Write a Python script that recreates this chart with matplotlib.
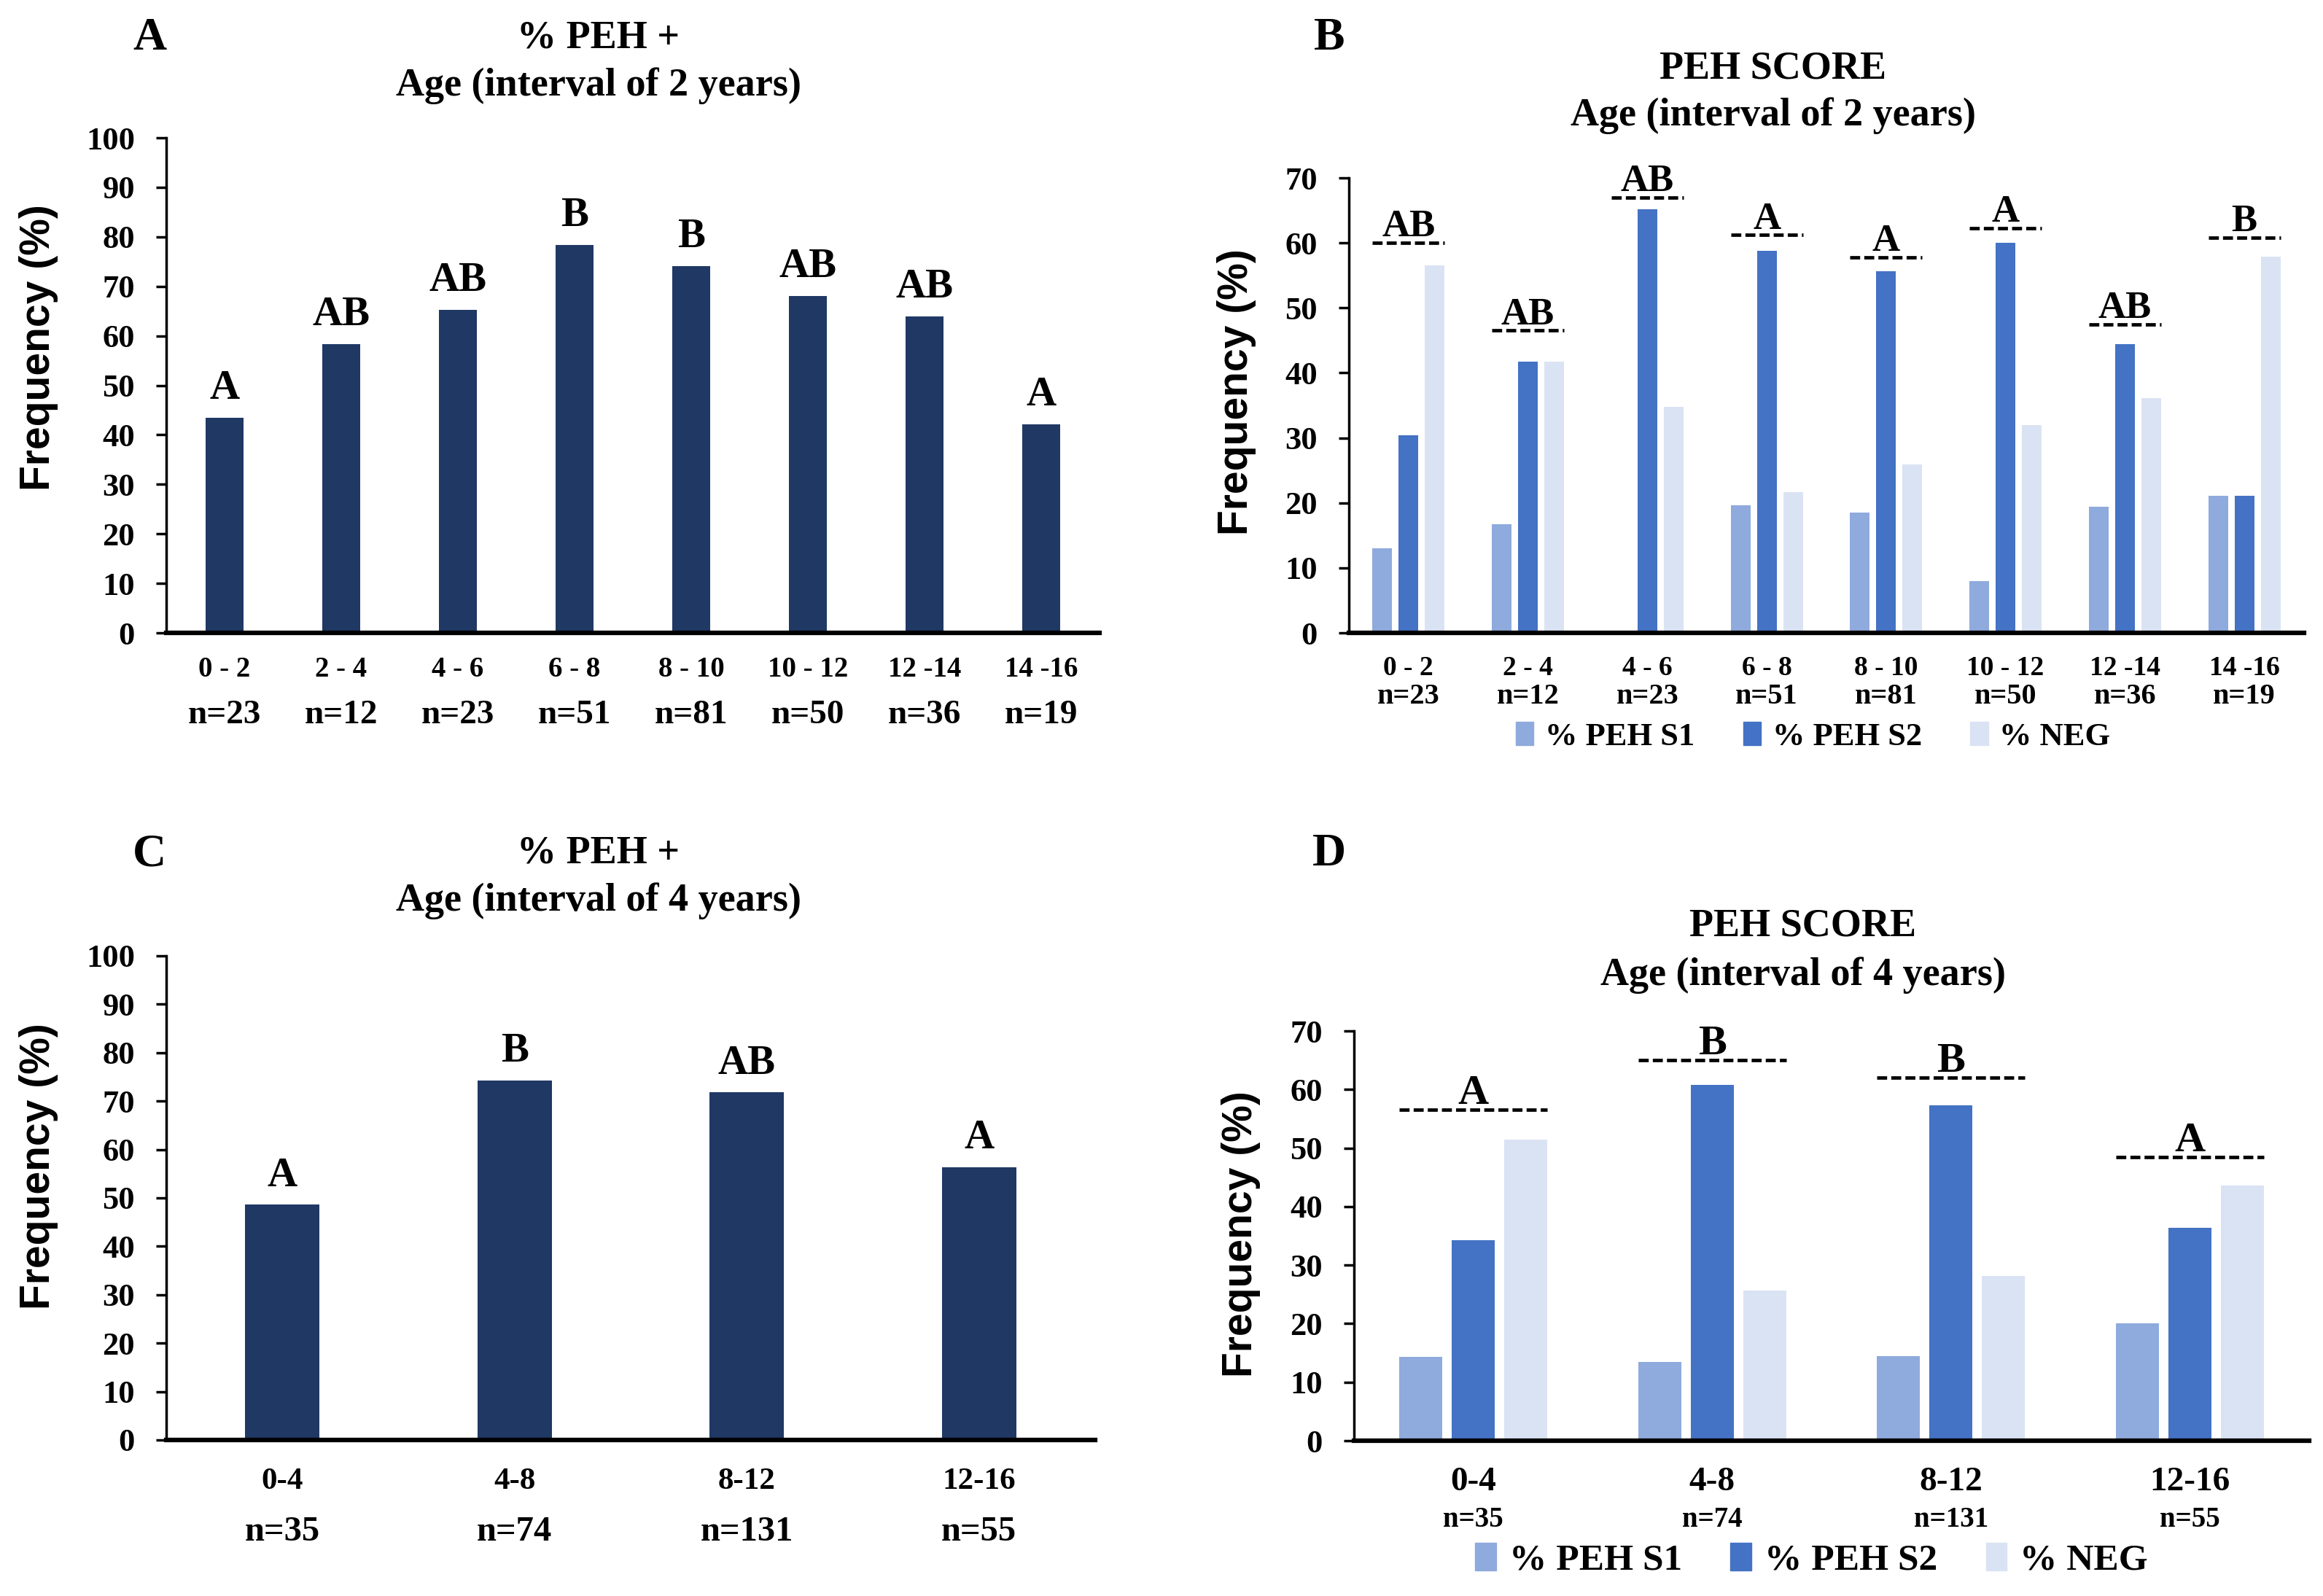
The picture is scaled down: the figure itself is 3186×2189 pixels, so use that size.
import matplotlib
matplotlib.use("Agg")
import matplotlib.pyplot as plt
from matplotlib.patches import Patch

# data
labels2 = ['0 - 2', '2 - 4', '4 - 6', '6 - 8', '8 - 10', '10 - 12', '12 -14', '14 -16']
n2 = [23, 12, 23, 51, 81, 50, 36, 19]
peh2 = [43.5, 58.3, 65.2, 78.4, 74.1, 68.0, 63.9, 42.1]
grp2 = ['A', 'AB', 'AB', 'B', 'B', 'AB', 'AB', 'A']
s1_2 = [13.0, 16.7, 0.0, 19.6, 18.5, 8.0, 19.4, 21.1]
s2_2 = [30.4, 41.7, 65.2, 58.8, 55.6, 60.0, 44.4, 21.1]
neg2 = [56.5, 41.7, 34.8, 21.6, 25.9, 32.0, 36.1, 57.9]
score_grp2 = ['AB', 'AB', 'AB', 'A', 'A', 'A', 'AB', 'B']
score_line2 = [60.0, 46.5, 67.0, 61.2, 57.8, 62.3, 47.5, 60.8]

labels4 = ['0-4', '4-8', '8-12', '12-16']
n4 = [35, 74, 131, 55]
peh4 = [48.6, 74.3, 71.8, 56.4]
grp4 = ['A', 'B', 'AB', 'A']
s1_4 = [14.3, 13.5, 14.5, 20.0]
s2_4 = [34.3, 60.8, 57.3, 36.4]
neg4 = [51.4, 25.7, 28.2, 43.6]
score_grp4 = ['A', 'B', 'B', 'A']
score_line4 = [56.5, 65.0, 62.0, 48.5]

NAVY = '#203864'
C_S1 = '#8FAADC'
C_S2 = '#4472C4'
C_NEG = '#DAE3F3'
SERIF = 'Liberation Serif'
SANS = 'Liberation Sans'

plt.rcParams['font.family'] = SERIF
plt.rcParams['font.weight'] = 'bold'

W, H = 3186, 2189
fig = plt.figure(figsize=(W / 100, H / 100), dpi=100)


def px_axes(left, right, top, bottom):
    # axes box from pixel edges of the picture
    return fig.add_axes([left / W, 1 - bottom / H, (right - left) / W, (bottom - top) / H])


def style_axes(ax, ymax, lab_x, lab_y):
    ax.set_ylim(0, ymax)
    ax.set_yticks(range(0, ymax + 1, 10))
    for s in ['top', 'right']:
        ax.spines[s].set_visible(False)
    ax.spines['bottom'].set_linewidth(4.5)
    ax.spines['left'].set_linewidth(2.5)
    ax.tick_params(axis='y', direction='out', length=10, width=2.5, labelsize=32, pad=21)
    ax.tick_params(axis='x', length=0, labelbottom=False)
    ax.set_ylabel('Frequency (%)', fontfamily=SANS, fontweight='bold', fontsize=41)
    ax.yaxis.set_label_coords(lab_x, lab_y)


def xlabels(ax, cats, ns, y_cat, y_n, size_cat, size_n):
    # y_cat / y_n: pixel distance below the x axis
    for i, (c, n) in enumerate(zip(cats, ns)):
        ax.annotate(c, xy=(i, 0), xycoords=('data', 'axes fraction'),
                    xytext=(0, -y_cat * 0.72), textcoords='offset points',
                    ha='center', va='center', fontsize=size_cat, fontweight='bold')
        ax.annotate(f'n={n}', xy=(i, 0), xycoords=('data', 'axes fraction'),
                    xytext=(0, -y_n * 0.72), textcoords='offset points',
                    ha='center', va='center', fontsize=size_n, fontweight='bold')


# ---- A ----
axA = px_axes(228, 1508, 189, 868)
axA.bar(range(len(labels2)), peh2, width=0.33, color=NAVY)
for i, (v, g) in enumerate(zip(peh2, grp2)):
    axA.text(i, v + 3.8, g, ha='center', va='baseline', fontsize=41, fontweight='bold')
axA.set_xlim(-0.5, 7.5)
style_axes(axA, 100, -0.116, 0.576)
xlabels(axA, labels2, n2, 50, 113, 28, 34)

# ---- C ----
axC = px_axes(228, 1502, 1311, 1975)
axC.bar(range(len(labels4)), peh4, width=0.32, color=NAVY)
for i, (v, g) in enumerate(zip(peh4, grp4)):
    axC.text(i, v + 3.8, g, ha='center', va='baseline', fontsize=41, fontweight='bold')
axC.set_xlim(-0.5, 3.5)
style_axes(axC, 100, -0.116, 0.565)
xlabels(axC, labels4, n4, 57, 126, 31, 35)


def score_panel(ax, s1, s2, neg, grps, lines, width, step, size, gap):
    xs = range(len(s1))
    ax.bar([i - step for i in xs], s1, width=width, color=C_S1)
    ax.bar(list(xs), s2, width=width, color=C_S2)
    ax.bar([i + step for i in xs], neg, width=width, color=C_NEG)
    half = step + width / 2
    for i, (g, y) in enumerate(zip(grps, lines)):
        ax.plot([i - half, i + half], [y, y], color='black', lw=3.4,
                linestyle=(0, (2.9, 1.2)), dash_capstyle='butt')
        ax.text(i, y + gap, g, ha='center', va='baseline', fontsize=size, fontweight='bold')


def legend(ax, xc, y, size, colsp):
    ax.legend(handles=[Patch(color=C_S1, label='% PEH S1'), Patch(color=C_S2, label='% PEH S2'),
                       Patch(color=C_NEG, label='% NEG')],
              loc='center', bbox_to_anchor=(xc, y), ncol=3, frameon=False,
              handlelength=0.55, handleheight=0.75, handletextpad=0.35, columnspacing=colsp,
              borderaxespad=0, prop={'family': SERIF, 'weight': 'bold', 'size': size})


# ---- B ----
axB = px_axes(1850, 3160, 244, 868)
score_panel(axB, s1_2, s2_2, neg2, score_grp2, score_line2, 0.165, 0.22, 38, 1.0)
axB.set_xlim(-0.5, 7.5)
style_axes(axB, 70, -0.097, 0.529)
xlabels(axB, labels2, n2, 48, 87, 27, 29)
legend(axB, 0.486, -0.228, 32, 1.5)

# ---- D ----
axD = px_axes(1857, 3167, 1414, 1976)
score_panel(axD, s1_4, s2_4, neg4, score_grp4, score_line4, 0.18, 0.22, 42, 1.0)
axD.set_xlim(-0.5, 3.5)
style_axes(axD, 70, -0.098, 0.505)
xlabels(axD, labels4, n4, 57, 108, 34, 28)
legend(axD, 0.479, -0.292, 37, 1.3)

# panel letters (x centre, baseline in pixels)
for lab, px, py in [('A', 205, 68), ('B', 1823, 68), ('C', 205, 1187), ('D', 1823, 1187)]:
    fig.text(px / W, 1 - py / H, lab, ha='center', va='baseline', fontsize=46, fontweight='bold')

# two-line titles (x centre, baselines in pixels)
titles = [('% PEH +', 'Age (interval of 2 years)', 821, 66, 131),
          ('PEH SCORE', 'Age (interval of 2 years)', 2432, 108, 172),
          ('% PEH +', 'Age (interval of 4 years)', 821, 1183, 1249),
          ('PEH SCORE', 'Age (interval of 4 years)', 2473, 1284, 1351)]
for l1, l2, px, b1, b2 in titles:
    fig.text(px / W, 1 - b1 / H, l1, ha='center', va='baseline', fontsize=39, fontweight='bold')
    fig.text(px / W, 1 - b2 / H, l2, ha='center', va='baseline', fontsize=39, fontweight='bold')

fig.savefig('out.png', dpi=100, facecolor='white')
